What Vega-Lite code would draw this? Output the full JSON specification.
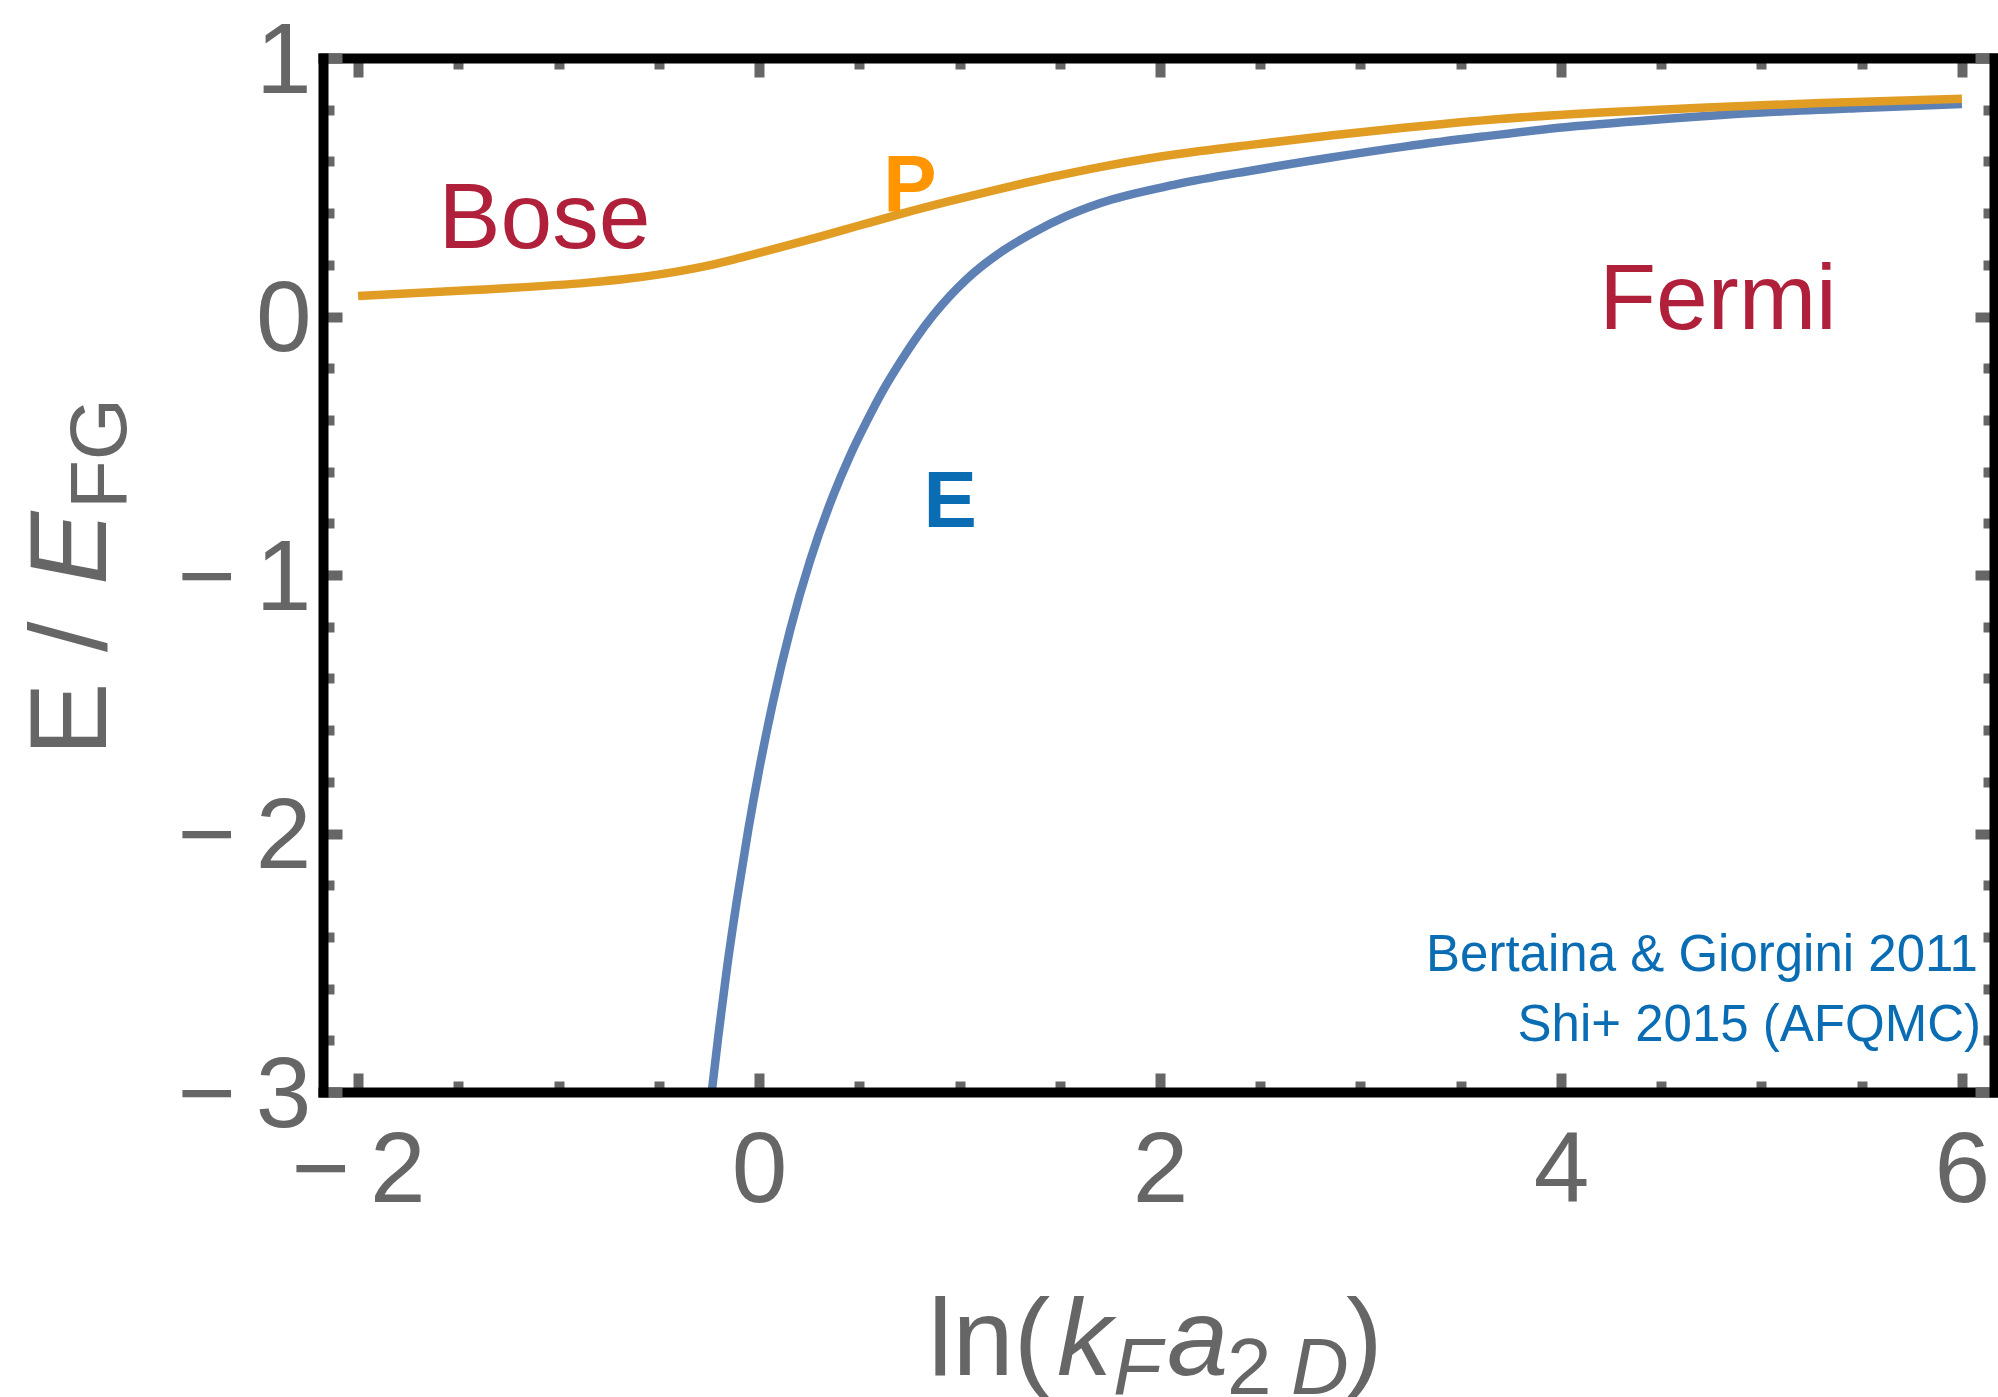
{
  "$schema": "https://vega.github.io/schema/vega-lite/v6.json",
  "width": 1671,
  "height": 1034,
  "autosize": {"type": "none"},
  "padding": {"left": 323, "top": 58, "right": 4, "bottom": 305},
  "background": "white",
  "config": {"view": {"stroke": null}},
  "datasets": {
    "curves": [
      {"series": "E", "x": -0.25, "y": -3.095},
      {"series": "E", "x": -0.236, "y": -3.0},
      {"series": "E", "x": -0.203, "y": -2.782},
      {"series": "E", "x": -0.161, "y": -2.527},
      {"series": "E", "x": -0.111, "y": -2.261},
      {"series": "E", "x": -0.053, "y": -1.982},
      {"series": "E", "x": 0.005, "y": -1.735},
      {"series": "E", "x": 0.071, "y": -1.486},
      {"series": "E", "x": 0.155, "y": -1.213},
      {"series": "E", "x": 0.254, "y": -0.946},
      {"series": "E", "x": 0.371, "y": -0.69},
      {"series": "E", "x": 0.45, "y": -0.545},
      {"series": "E", "x": 0.537, "y": -0.406},
      {"series": "E", "x": 0.62, "y": -0.284},
      {"series": "E", "x": 0.703, "y": -0.178},
      {"series": "E", "x": 0.785, "y": -0.082},
      {"series": "E", "x": 0.868, "y": 0.004},
      {"series": "E", "x": 0.95, "y": 0.078},
      {"series": "E", "x": 1.036, "y": 0.145},
      {"series": "E", "x": 1.2, "y": 0.246},
      {"series": "E", "x": 1.367, "y": 0.324},
      {"series": "E", "x": 1.53, "y": 0.387},
      {"series": "E", "x": 1.7, "y": 0.438},
      {"series": "E", "x": 2.08, "y": 0.511},
      {"series": "E", "x": 2.46, "y": 0.565},
      {"series": "E", "x": 2.846, "y": 0.614},
      {"series": "E", "x": 3.227, "y": 0.658},
      {"series": "E", "x": 3.61, "y": 0.696},
      {"series": "E", "x": 3.99, "y": 0.73},
      {"series": "E", "x": 4.5, "y": 0.763},
      {"series": "E", "x": 5.0, "y": 0.789},
      {"series": "E", "x": 5.5, "y": 0.807},
      {"series": "E", "x": 6.0, "y": 0.822},
      {"series": "P", "x": -2.0, "y": 0.079},
      {"series": "P", "x": -1.426, "y": 0.1025},
      {"series": "P", "x": -0.853, "y": 0.131},
      {"series": "P", "x": -0.65, "y": 0.147},
      {"series": "P", "x": -0.472, "y": 0.166},
      {"series": "P", "x": -0.25, "y": 0.198},
      {"series": "P", "x": -0.09, "y": 0.228},
      {"series": "P", "x": 0.1, "y": 0.266},
      {"series": "P", "x": 0.3, "y": 0.308},
      {"series": "P", "x": 0.5, "y": 0.352},
      {"series": "P", "x": 0.703, "y": 0.396},
      {"series": "P", "x": 0.95, "y": 0.446},
      {"series": "P", "x": 1.202, "y": 0.494},
      {"series": "P", "x": 1.45, "y": 0.538},
      {"series": "P", "x": 1.7, "y": 0.578},
      {"series": "P", "x": 1.95, "y": 0.612},
      {"series": "P", "x": 2.2, "y": 0.64},
      {"series": "P", "x": 2.464, "y": 0.665},
      {"series": "P", "x": 2.85, "y": 0.7},
      {"series": "P", "x": 3.227, "y": 0.731},
      {"series": "P", "x": 3.696, "y": 0.764},
      {"series": "P", "x": 4.2, "y": 0.789},
      {"series": "P", "x": 4.7, "y": 0.808},
      {"series": "P", "x": 5.3, "y": 0.826},
      {"series": "P", "x": 6.0, "y": 0.842}
    ],
    "regimes": [
      {"label": "Bose", "x": -1.07, "y": 0.265},
      {"label": "Fermi", "x": 4.783, "y": -0.048}
    ],
    "labelP": [{"label": "P", "x": 0.753, "y": 0.408}],
    "labelE": [{"label": "E", "x": 0.953, "y": -0.814}],
    "sources": [
      {"label": "Bertaina & Giorgini 2011", "x": 6.08, "y": -2.532},
      {"label": "Shi+ 2015 (AFQMC)", "x": 6.095, "y": -2.803}
    ],
    "xTitle": [
      {"label": "ln(", "x": 0.843, "y": -4.095},
      {"label": ")", "x": 2.928, "y": -4.095}
    ],
    "xTitleItalic": [
      {"label": "k", "x": 1.486, "y": -4.095},
      {"label": "a", "x": 2.035, "y": -4.095}
    ],
    "xTitleSubItalic": [
      {"label": "F", "x": 1.766, "y": -4.168},
      {"label": "D", "x": 2.653, "y": -4.168}
    ],
    "xTitleSub": [
      {"label": "2", "x": 2.334, "y": -4.168}
    ],
    "yTitle": [{"label": "E /", "x": -3.257, "y": -1.7}],
    "yTitleItalic": [{"label": "E", "x": -3.257, "y": -1.039}],
    "yTitleSub": [{"label": "FG", "x": -3.157, "y": -0.745}]
  },
  "layer": [
    {
      "data": {"name": "curves"},
      "mark": {"type": "line", "strokeWidth": 8.5, "clip": true, "interpolate": "monotone"},
      "encoding": {
        "x": {
          "field": "x", "type": "quantitative",
          "scale": {"domain": [-2.175, 6.16], "nice": false, "zero": false},
          "axis": {
            "orient": "bottom",
            "values": [-2, -1.5, -1, -0.5, 0, 0.5, 1, 1.5, 2, 2.5, 3, 3.5, 4, 4.5, 5, 5.5, 6],
            "labelExpr": "datum.value % 2 === 0 ? (datum.value < 0 ? '−\u2009' + abs(datum.value) : '' + datum.value) : ''",
            "labelFont": "Liberation Sans", "labelFontSize": 100, "labelColor": "#666666",
            "labelPadding": 49, "labelFlush": false, "labelOverlap": false, "labelBound": false,
            "tickColor": "#666666", "tickWidth": 10,
            "tickSize": {"condition": {"test": "datum.value % 2 === 0", "value": -19}, "value": -11},
            "domainColor": "#000000", "domainWidth": 10, "domainCap": "square",
            "grid": false, "title": null, "zindex": 1
          }
        },
        "y": {
          "field": "y", "type": "quantitative",
          "scale": {"domain": [-3, 1], "nice": false, "zero": false},
          "axis": {
            "orient": "left",
            "values": [-3, -2.8, -2.6, -2.4, -2.2, -2, -1.8, -1.6, -1.4, -1.2, -1, -0.8, -0.6, -0.4, -0.2, 0, 0.2, 0.4, 0.6, 0.8, 1],
            "labelExpr": "datum.value % 1 === 0 ? (datum.value < 0 ? '−\u2009' + abs(datum.value) : '' + datum.value) : ''",
            "labelFont": "Liberation Sans", "labelFontSize": 100, "labelColor": "#666666",
            "labelPadding": 31, "labelOffset": 4, "labelFlush": false, "labelOverlap": false, "labelBound": false,
            "tickColor": "#666666", "tickWidth": 10,
            "tickSize": {"condition": {"test": "datum.value % 1 === 0", "value": -19}, "value": -11},
            "domainColor": "#000000", "domainWidth": 10, "domainCap": "square",
            "grid": false, "title": null, "zindex": 1
          }
        },
        "color": {
          "field": "series", "type": "nominal",
          "scale": {"domain": ["E", "P"], "range": ["#5E81B5", "#E19C24"]},
          "legend": null
        }
      }
    },
    {
      "data": {"name": "regimes"},
      "mark": {"type": "text", "font": "Liberation Sans", "fontSize": 93, "color": "#B0203A", "align": "center", "baseline": "alphabetic"},
      "encoding": {
        "x": {
          "field": "x", "type": "quantitative",
          "scale": {"domain": [-2.175, 6.16], "nice": false, "zero": false},
          "axis": {
            "orient": "top",
            "values": [-2, -1.5, -1, -0.5, 0, 0.5, 1, 1.5, 2, 2.5, 3, 3.5, 4, 4.5, 5, 5.5, 6],
            "labels": false,
            "tickColor": "#666666", "tickWidth": 10,
            "tickSize": {"condition": {"test": "datum.value % 2 === 0", "value": -19}, "value": -11},
            "domainColor": "#000000", "domainWidth": 10, "domainCap": "square",
            "grid": false, "title": null, "zindex": 1
          }
        },
        "y": {
          "field": "y", "type": "quantitative",
          "scale": {"domain": [-3, 1], "nice": false, "zero": false},
          "axis": {
            "orient": "right",
            "values": [-3, -2.8, -2.6, -2.4, -2.2, -2, -1.8, -1.6, -1.4, -1.2, -1, -0.8, -0.6, -0.4, -0.2, 0, 0.2, 0.4, 0.6, 0.8, 1],
            "labels": false,
            "tickColor": "#666666", "tickWidth": 10,
            "tickSize": {"condition": {"test": "datum.value % 1 === 0", "value": -19}, "value": -11},
            "domainColor": "#000000", "domainWidth": 10, "domainCap": "square",
            "grid": false, "title": null, "zindex": 1
          }
        },
        "text": {"field": "label"}
      }
    },
    {
      "data": {"name": "labelP"},
      "mark": {"type": "text", "font": "Liberation Sans", "fontSize": 80, "fontWeight": "bold", "color": "#FF9500", "align": "center", "baseline": "alphabetic"},
      "encoding": {
        "x": {"field": "x", "type": "quantitative", "scale": {"domain": [-2.175, 6.16], "nice": false, "zero": false}, "axis": null},
        "y": {"field": "y", "type": "quantitative", "scale": {"domain": [-3, 1], "nice": false, "zero": false}, "axis": null},
        "text": {"field": "label"}
      }
    },
    {
      "data": {"name": "labelE"},
      "mark": {"type": "text", "font": "Liberation Sans", "fontSize": 80, "fontWeight": "bold", "color": "#0A6DB4", "align": "center", "baseline": "alphabetic"},
      "encoding": {
        "x": {"field": "x", "type": "quantitative", "scale": {"domain": [-2.175, 6.16], "nice": false, "zero": false}, "axis": null},
        "y": {"field": "y", "type": "quantitative", "scale": {"domain": [-3, 1], "nice": false, "zero": false}, "axis": null},
        "text": {"field": "label"}
      }
    },
    {
      "data": {"name": "sources"},
      "mark": {"type": "text", "font": "Liberation Sans", "fontSize": 51, "color": "#0A6DB4", "align": "right", "baseline": "alphabetic"},
      "encoding": {
        "x": {"field": "x", "type": "quantitative", "scale": {"domain": [-2.175, 6.16], "nice": false, "zero": false}, "axis": null},
        "y": {"field": "y", "type": "quantitative", "scale": {"domain": [-3, 1], "nice": false, "zero": false}, "axis": null},
        "text": {"field": "label"}
      }
    },
    {
      "data": {"name": "xTitle"},
      "mark": {"type": "text", "font": "Liberation Sans", "fontSize": 110, "color": "#666666", "align": "left", "baseline": "alphabetic"},
      "encoding": {
        "x": {"field": "x", "type": "quantitative", "scale": {"domain": [-2.175, 6.16], "nice": false, "zero": false}, "axis": null},
        "y": {"field": "y", "type": "quantitative", "scale": {"domain": [-3, 1], "nice": false, "zero": false}, "axis": null},
        "text": {"field": "label"}
      }
    },
    {
      "data": {"name": "xTitleItalic"},
      "mark": {"type": "text", "font": "Liberation Sans", "fontSize": 110, "fontStyle": "italic", "color": "#666666", "align": "left", "baseline": "alphabetic"},
      "encoding": {
        "x": {"field": "x", "type": "quantitative", "scale": {"domain": [-2.175, 6.16], "nice": false, "zero": false}, "axis": null},
        "y": {"field": "y", "type": "quantitative", "scale": {"domain": [-3, 1], "nice": false, "zero": false}, "axis": null},
        "text": {"field": "label"}
      }
    },
    {
      "data": {"name": "xTitleSubItalic"},
      "mark": {"type": "text", "font": "Liberation Sans", "fontSize": 80, "fontStyle": "italic", "color": "#666666", "align": "left", "baseline": "alphabetic"},
      "encoding": {
        "x": {"field": "x", "type": "quantitative", "scale": {"domain": [-2.175, 6.16], "nice": false, "zero": false}, "axis": null},
        "y": {"field": "y", "type": "quantitative", "scale": {"domain": [-3, 1], "nice": false, "zero": false}, "axis": null},
        "text": {"field": "label"}
      }
    },
    {
      "data": {"name": "xTitleSub"},
      "mark": {"type": "text", "font": "Liberation Sans", "fontSize": 80, "color": "#666666", "align": "left", "baseline": "alphabetic"},
      "encoding": {
        "x": {"field": "x", "type": "quantitative", "scale": {"domain": [-2.175, 6.16], "nice": false, "zero": false}, "axis": null},
        "y": {"field": "y", "type": "quantitative", "scale": {"domain": [-3, 1], "nice": false, "zero": false}, "axis": null},
        "text": {"field": "label"}
      }
    },
    {
      "data": {"name": "yTitle"},
      "mark": {"type": "text", "font": "Liberation Sans", "fontSize": 110, "color": "#666666", "align": "left", "baseline": "alphabetic", "angle": 270},
      "encoding": {
        "x": {"field": "x", "type": "quantitative", "scale": {"domain": [-2.175, 6.16], "nice": false, "zero": false}, "axis": null},
        "y": {"field": "y", "type": "quantitative", "scale": {"domain": [-3, 1], "nice": false, "zero": false}, "axis": null},
        "text": {"field": "label"}
      }
    },
    {
      "data": {"name": "yTitleItalic"},
      "mark": {"type": "text", "font": "Liberation Sans", "fontSize": 110, "fontStyle": "italic", "color": "#666666", "align": "left", "baseline": "alphabetic", "angle": 270},
      "encoding": {
        "x": {"field": "x", "type": "quantitative", "scale": {"domain": [-2.175, 6.16], "nice": false, "zero": false}, "axis": null},
        "y": {"field": "y", "type": "quantitative", "scale": {"domain": [-3, 1], "nice": false, "zero": false}, "axis": null},
        "text": {"field": "label"}
      }
    },
    {
      "data": {"name": "yTitleSub"},
      "mark": {"type": "text", "font": "Liberation Sans", "fontSize": 80, "color": "#666666", "align": "left", "baseline": "alphabetic", "angle": 270},
      "encoding": {
        "x": {"field": "x", "type": "quantitative", "scale": {"domain": [-2.175, 6.16], "nice": false, "zero": false}, "axis": null},
        "y": {"field": "y", "type": "quantitative", "scale": {"domain": [-3, 1], "nice": false, "zero": false}, "axis": null},
        "text": {"field": "label"}
      }
    }
  ],
  "resolve": {"axis": {"x": "independent", "y": "independent"}}
}
